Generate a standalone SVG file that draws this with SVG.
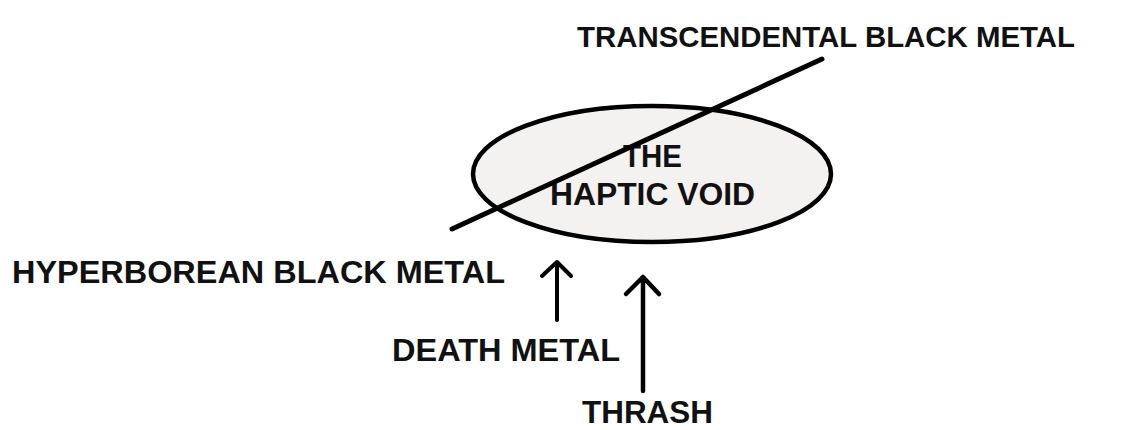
<svg xmlns="http://www.w3.org/2000/svg" width="1138" height="430" viewBox="0 0 1138 430">
<style>
.t{font-family:"Liberation Sans",Arial,sans-serif;font-weight:bold;font-size:31px;fill:#111}
.ln{stroke:#000;fill:none;stroke-linecap:round;stroke-linejoin:round}
</style>
<rect width="1138" height="430" fill="#fff"/>
<g id="void">
<ellipse cx="652" cy="174" rx="179" ry="68" fill="#f4f2f0" stroke="#000" stroke-width="4.5"/>
<text class="t" x="652.5" y="167" text-anchor="middle" textLength="59" lengthAdjust="spacingAndGlyphs">THE</text>
<text class="t" x="652.5" y="205" text-anchor="middle" textLength="205" lengthAdjust="spacingAndGlyphs">HAPTIC VOID</text>
</g>
<g id="transcendental">
<text class="t" x="577" y="47" style="font-size:30px" textLength="498" lengthAdjust="spacingAndGlyphs">TRANSCENDENTAL BLACK METAL</text>
</g>
<g id="hyperborean">
<text class="t" x="12" y="283" style="font-size:31px" textLength="493" lengthAdjust="spacingAndGlyphs">HYPERBOREAN BLACK METAL</text>
</g>
<g id="death">
<text class="t" x="392" y="361" style="font-size:32px" textLength="228" lengthAdjust="spacingAndGlyphs">DEATH METAL</text>
</g>
<g id="thrash">
<text class="t" x="582" y="423" style="font-size:32px" textLength="131" lengthAdjust="spacingAndGlyphs">THRASH</text>
</g>
<g id="connectors">
<line class="ln" x1="452" y1="229" x2="822" y2="59" stroke-width="5"/>
<path class="ln" d="M557 320 V263 M542 276 L557 262 L571 276" stroke-width="4"/>
<path class="ln" d="M643 391 V278 M626 294 L643 277 L659 294" stroke-width="4.5"/>
</g>
</svg>
